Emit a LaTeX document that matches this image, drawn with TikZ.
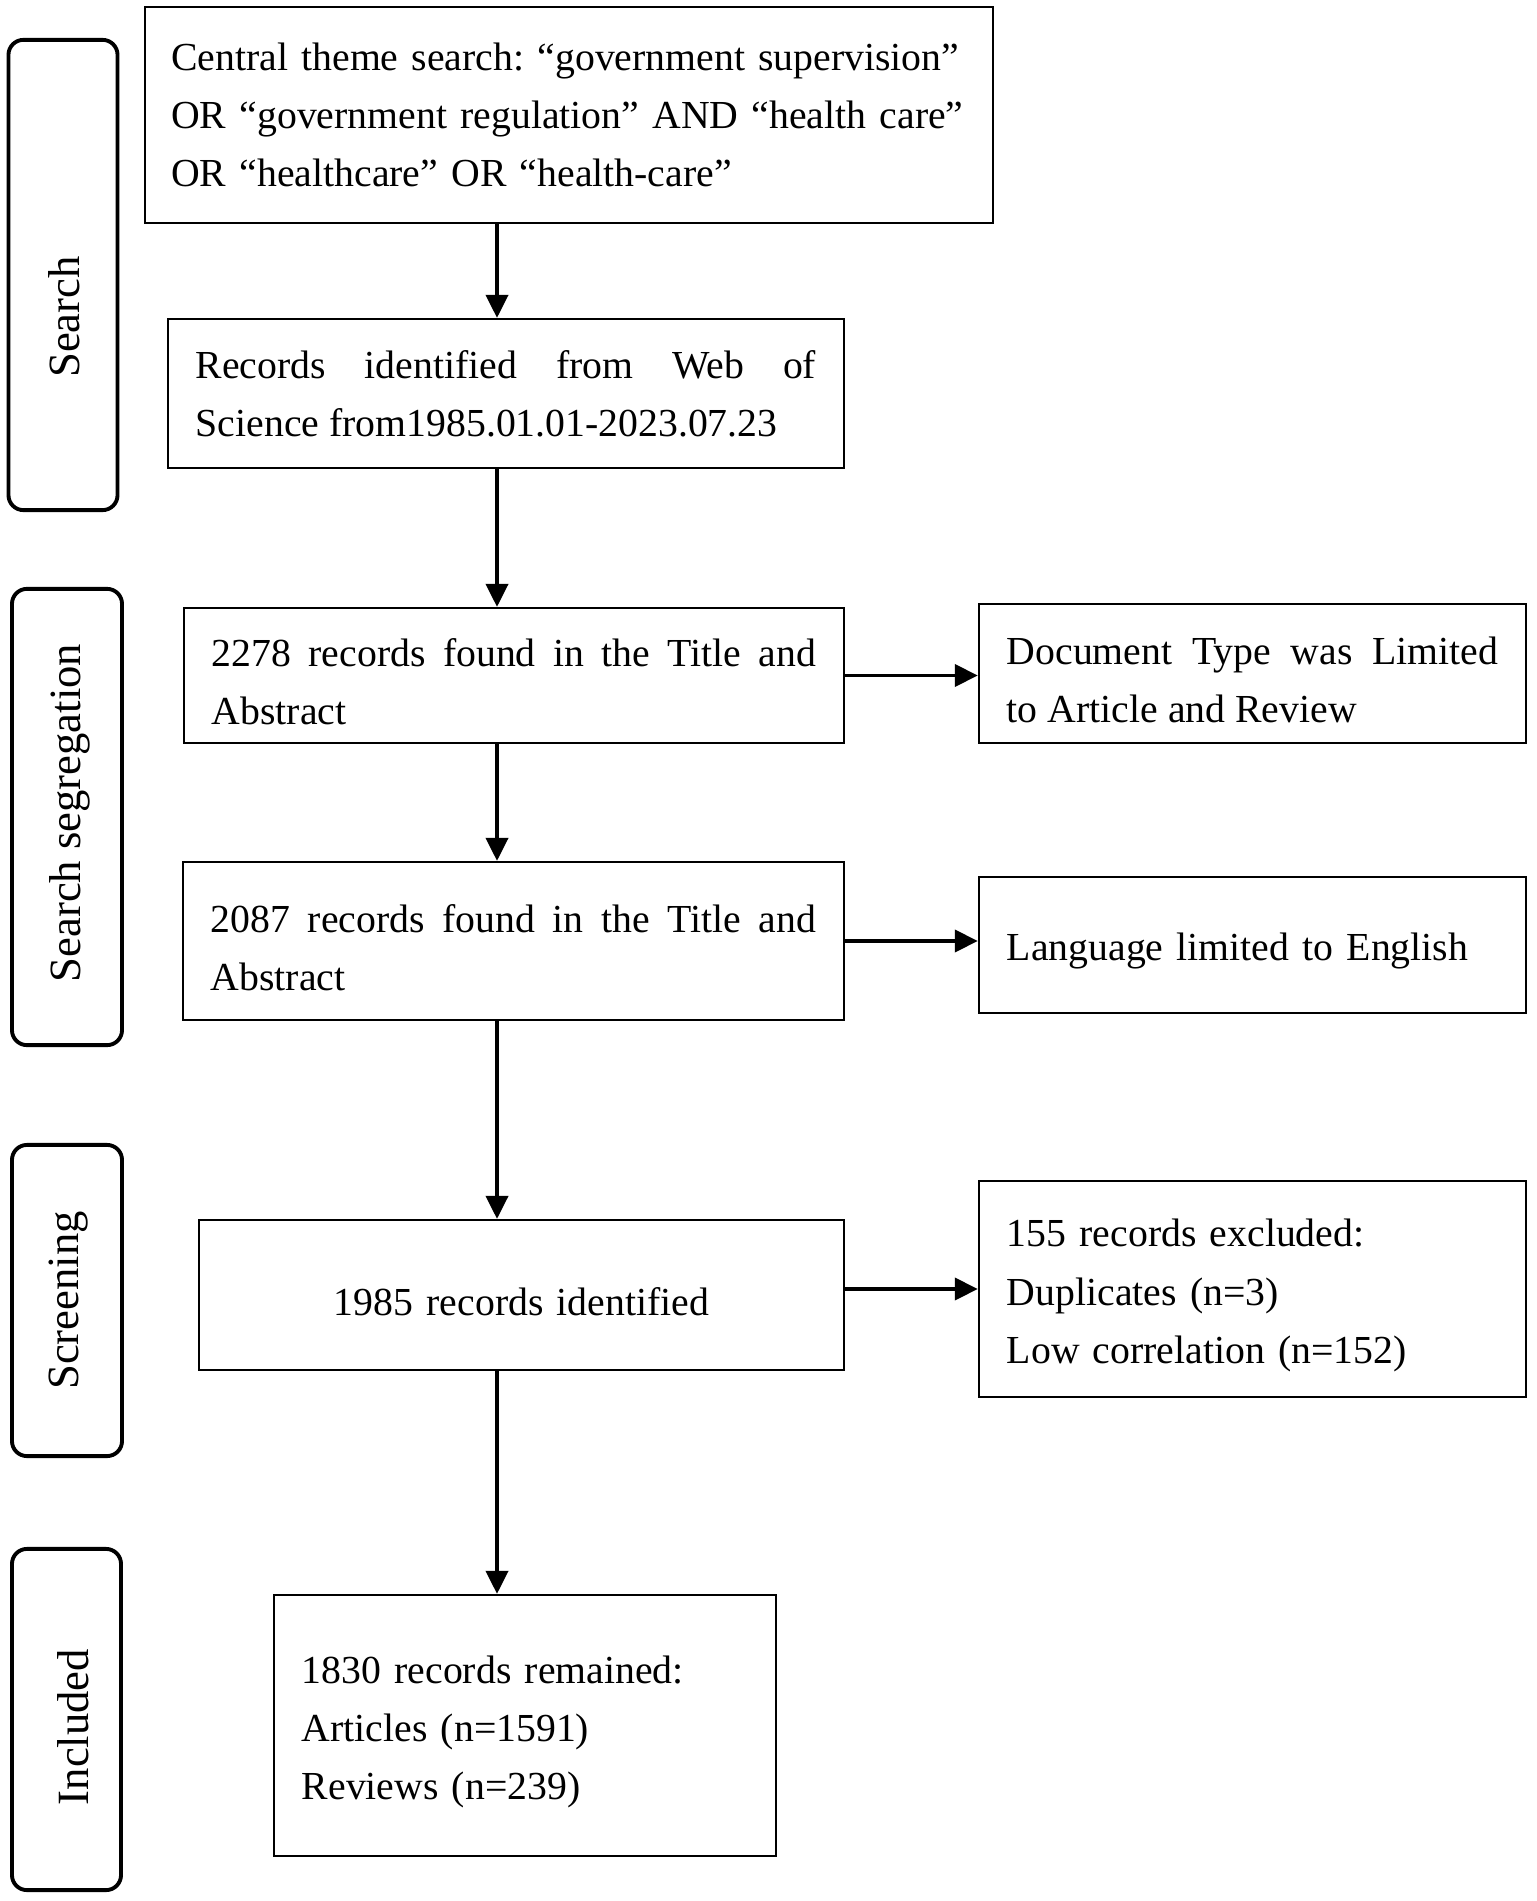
\documentclass[tikz,border=0pt]{standalone}
\usepackage{fontspec}
\setmainfont{Liberation Serif}
\usetikzlibrary{arrows.meta, calc, positioning}
\hyphenpenalty=10000
\exhyphenpenalty=10000
\tolerance=9999
\frenchspacing
\tikzset{
    my-box/.style={
        draw, line width=0.6pt, inner xsep=0.28cm, inner ysep=0pt,
        font=\fontsize{11.3}{16.5}\selectfont
    },
    my-low/.style={
        execute at begin node={\rule{0pt}{11.5pt}}
    },
    my-just-box/.style={
        my-box, align=justify
    },
    my-left-box/.style={
        my-box, align=left
    },
    my-stage/.style={
        draw, line width=1.1pt, rounded corners=0.15cm, inner sep=0pt
    },
    my-stage-text/.style={
        rotate=90, inner sep=0pt, font=\fontsize{12.7}{15}\selectfont
    },
    my-arrow/.style={
        line width=1.1pt, -{Triangle[length=0.23cm, width=0.22cm]}
    },
}

\begin{document}
\begin{tikzpicture}[x=0.01cm, y=-0.01cm]

        \useasboundingbox (0, 0) rectangle (1536, 1901);

        % MAIN COLUMN ---------------------------------------------------------------------------------

        % SEARCH BOXES
        \node[my-left-box, inner xsep=0.265cm, text width=7.95cm, minimum height=2.16cm] (TOP) at (569, 115)
            {Central theme search: “government supervision”\\
             OR “government regulation” AND “health care”\\
             OR “healthcare” OR “health-care”};
        \node[my-just-box, text width=6.20cm, minimum height=1.49cm] (RECORDS) at ($(TOP) + (-63, 278.5)$)
            {Records identified from Web of\linebreak Science from1985.01.01-2023.07.23};

        % SEGREGATION BOXES
        \node[my-just-box, my-low, text width=6.04cm, minimum height=1.35cm] (TITLE1) at ($(RECORDS) + (8, 282)$)
            {2278 records found in the Title and\linebreak Abstract};
        \node[my-just-box, my-low, text width=6.05cm, minimum height=1.58cm] (TITLE2) at ($(TITLE1) + (-0.5, 265.5)$)
            {2087 records found in the Title and\linebreak Abstract};

        % SCREENING AND INCLUDED BOXES
        \node[my-box, my-low, text width=5.89cm, align=center, minimum height=1.50cm] (IDENT) at ($(TITLE2) + (8, 354)$)
            {1985 records identified};
        \node[my-left-box, my-low, text width=4.46cm, minimum height=2.61cm] (REMAIN) at ($(IDENT) + (3.5, 430.5)$)
            {1830 records remained:\\ Articles (n=1591)\\ Reviews (n=239)};

        % SIDE COLUMN ---------------------------------------------------------------------------------

        \node[my-just-box, my-low, text width=4.91cm, minimum height=1.39cm] (DOCTYPE) at (1252.5, 673.5)
            {Document Type was Limited\linebreak to Article and Review};
        \node[my-left-box, my-low, text width=4.91cm, minimum height=1.36cm] (LANG) at (1252.5, 945)
            {Language limited to English};
        \node[my-left-box, my-low, text width=4.91cm, minimum height=2.16cm] (EXCL) at (1252.5, 1289)
            {155 records excluded:\\ Duplicates (n=3)\\ Low correlation (n=152)};

        % STAGES --------------------------------------------------------------------------------------

        \node[my-stage, minimum width=1.09cm, minimum height=4.70cm] (SEARCH) at (63, 275)     {};
        \node[my-stage, minimum width=1.10cm, minimum height=4.56cm] (SEG)    at (67, 817)     {};
        \node[my-stage, minimum width=1.10cm, minimum height=3.11cm] (SCREEN) at (67, 1300.5)  {};
        \node[my-stage, minimum width=1.09cm, minimum height=3.41cm] (INCL)   at (66.5, 1719.5) {};

        \node[my-stage-text] (SEARCHTXT) at ($(SEARCH) + (1, 42)$)  {Search};
        \node[my-stage-text] (SEGTXT)    at ($(SEG) + (3, -4)$)     {Search segregation};
        \node[my-stage-text] (SCREENTXT) at ($(SCREEN) + (2, 0)$)   {Screening};
        \node[my-stage-text] (INCLTXT)   at ($(INCL) + (6.5, 7.5)$) {Included};

        % ARROWS --------------------------------------------------------------------------------------

        \coordinate (AX) at (497, 0);
        \draw[my-arrow] (TOP.south -| AX)     -- (RECORDS.north -| AX);
        \draw[my-arrow] (RECORDS.south -| AX) -- (TITLE1.north -| AX);
        \draw[my-arrow] (TITLE1.south -| AX)  -- (TITLE2.north -| AX);
        \draw[my-arrow] (TITLE2.south -| AX)  -- (IDENT.north -| AX);
        \draw[my-arrow] (IDENT.south -| AX)   -- (REMAIN.north -| AX);

        \draw[my-arrow] (TITLE1.east)           -- (TITLE1.east -| DOCTYPE.west);
        \draw[my-arrow] (TITLE2.east)           -- (TITLE2.east -| LANG.west);
        \draw[my-arrow] (EXCL.west -| IDENT.east) -- (EXCL.west);

\end{tikzpicture}
\end{document}
